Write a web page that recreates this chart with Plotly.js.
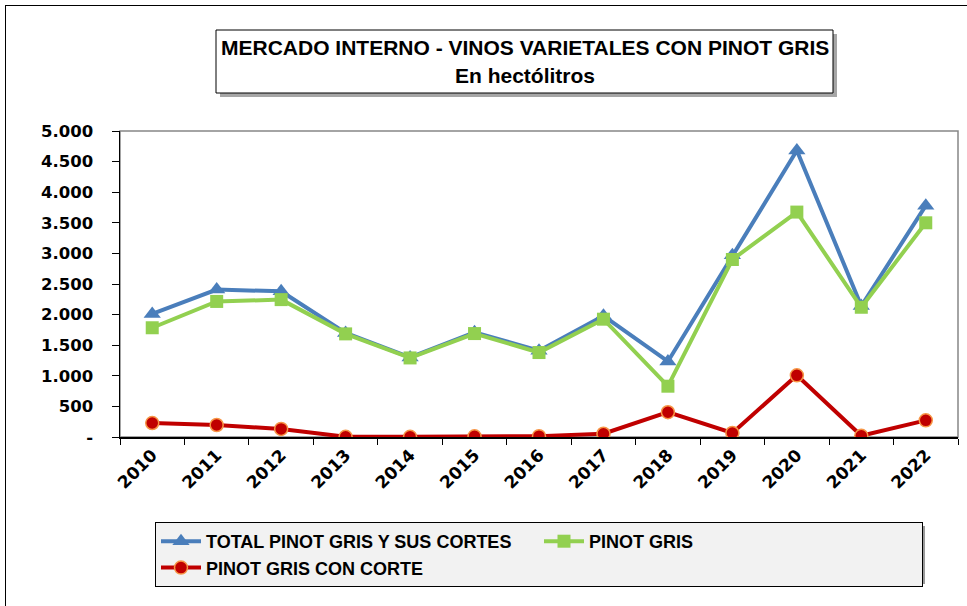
<!DOCTYPE html>
<html>
<head>
<meta charset="utf-8">
<script src="https://cdn.plot.ly/plotly-3.0.1.min.js"></script>
<style>
html,body{margin:0;padding:0;background:#fff;overflow:hidden;}
#frame{position:absolute;left:5px;top:5px;width:1100px;height:800px;border-left:1.5px solid #000;border-top:1.5px solid #000;}
#chart{position:absolute;left:0;top:0;width:967px;height:606px;}
</style>
</head>
<body>
<div id="frame"></div>
<div id="chart"></div>
<script>
const years = ['2010','2011','2012','2013','2014','2015','2016','2017','2018','2019','2020','2021','2022'];
const totalPinotGris = [2010, 2410, 2380, 1700, 1300, 1710, 1410, 1980, 1235, 2970, 4680, 2140, 3780];
const pinotGris      = [1785, 2215, 2245, 1685, 1292, 1690, 1380, 1925,  830, 2900, 3675, 2120, 3500];
const pinotGrisCorte = [ 228,  196,  132,    4,    3,   12,   14,   54,  405,   66, 1008,   20,  272];
const yTickVals = [0, 500, 1000, 1500, 2000, 2500, 3000, 3500, 4000, 4500, 5000];
const yTickText = ['-', '500', '1.000', '1.500', '2.000', '2.500', '3.000', '3.500', '4.000', '4.500', '5.000'];
const seriesNames = ['TOTAL PINOT GRIS Y SUS CORTES', 'PINOT GRIS', 'PINOT GRIS CON CORTE'];

const narrow = '"Liberation Sans Narrow", "Arial Narrow", "Liberation Sans", Arial, sans-serif';
const W = 967, H = 606, L = 120, R = 9, T = 131, B = 169;
const pw = W - L - R, ph = H - T - B;
const px = v => (v - L) / pw;
const py = v => (H - B - v) / ph;

const traces = [
  {x: years, y: totalPinotGris, name: seriesNames[0], type: 'scatter', mode: 'lines+markers',
   line: {color: '#4a7ebb', width: 4}, marker: {symbol: 'triangle-up', size: 15, color: '#4a7ebb'}},
  {x: years, y: pinotGris, name: seriesNames[1], type: 'scatter', mode: 'lines+markers',
   line: {color: '#92d050', width: 4}, marker: {symbol: 'square', size: 13, color: '#92d050'}},
  {x: years, y: pinotGrisCorte, name: seriesNames[2], type: 'scatter', mode: 'lines+markers',
   line: {color: '#c00000', width: 4}, marker: {symbol: 'circle', size: 13, color: '#c00000', line: {color: '#f79646', width: 1.5}}}
];

const layout = {
  width: W, height: H,
  margin: {l: L, r: R, t: T, b: B, pad: 0},
  paper_bgcolor: 'rgba(0,0,0,0)',
  plot_bgcolor: '#fff',
  showlegend: true,
  legend: {
    orientation: 'h', xref: 'container', yref: 'container',
    x: 155 / W, y: 1 - 522 / H, xanchor: 'left', yanchor: 'top',
    bgcolor: '#f2f2f2', bordercolor: '#000', borderwidth: 1,
    entrywidth: 328, entrywidthmode: 'pixels',
    font: {family: narrow, size: 18, color: '#000', weight: 'bold'},
    tracegroupgap: 0, itemwidth: 40
  },
  xaxis: {
    type: 'category', showgrid: false, zeroline: false,
    showline: true, linecolor: '#000', linewidth: 1.5,
    ticks: 'outside', tickson: 'boundaries', ticklen: 6, tickcolor: '#000', tickwidth: 1,
    tickangle: -45, automargin: false,
    tickfont: {family: '"DejaVu Sans", Verdana, sans-serif', size: 17, color: '#000', weight: 'bold'},
    range: [-0.5, 12.5], fixedrange: true
  },
  yaxis: {
    range: [0, 5000], showgrid: false, zeroline: false,
    showline: true, linecolor: '#000', linewidth: 1.5,
    ticks: 'outside', ticklen: 7, tickcolor: '#000', tickwidth: 1,
    tickvals: yTickVals, ticktext: yTickText, automargin: false,
    tickfont: {family: '"DejaVu Sans", Verdana, sans-serif', size: 16.5, color: '#000', weight: 'bold'},
    ticklabelstandoff: 15, fixedrange: true
  },
  shapes: [
    {type: 'rect', xref: 'paper', yref: 'paper', x0: 0, x1: 1, y0: 0, y1: 1, layer: 'below',
     line: {color: '#868686', width: 1.5}, fillcolor: 'rgba(0,0,0,0)'},
    {type: 'rect', xref: 'paper', yref: 'paper', x0: px(220), x1: px(837), y0: py(97), y1: py(34),
     line: {width: 0}, fillcolor: '#a6a6a6'},
    {type: 'rect', xref: 'paper', yref: 'paper', x0: px(216), x1: px(833), y0: py(93), y1: py(30),
     line: {color: '#000', width: 1}, fillcolor: '#fff'},
    {type: 'rect', xref: 'paper', yref: 'paper', x0: px(158), x1: px(925), y0: py(584), y1: py(526),
     line: {width: 0}, fillcolor: '#9a9a9a'}
  ],
  annotations: [
    {xref: 'paper', yref: 'paper', x: px(525), y: py(47), text: 'MERCADO INTERNO - VINOS VARIETALES CON PINOT GRIS',
     showarrow: false, xanchor: 'center', yanchor: 'middle',
     font: {family: narrow, size: 21, color: '#000', weight: 'bold'}},
    {xref: 'paper', yref: 'paper', x: px(525), y: py(75), text: 'En hectólitros',
     showarrow: false, xanchor: 'center', yanchor: 'middle',
     font: {family: narrow, size: 21, color: '#000', weight: 'bold'}}
  ]
};

Plotly.newPlot('chart', traces, layout, {displayModeBar: false, staticPlot: true});
</script>
</body>
</html>
